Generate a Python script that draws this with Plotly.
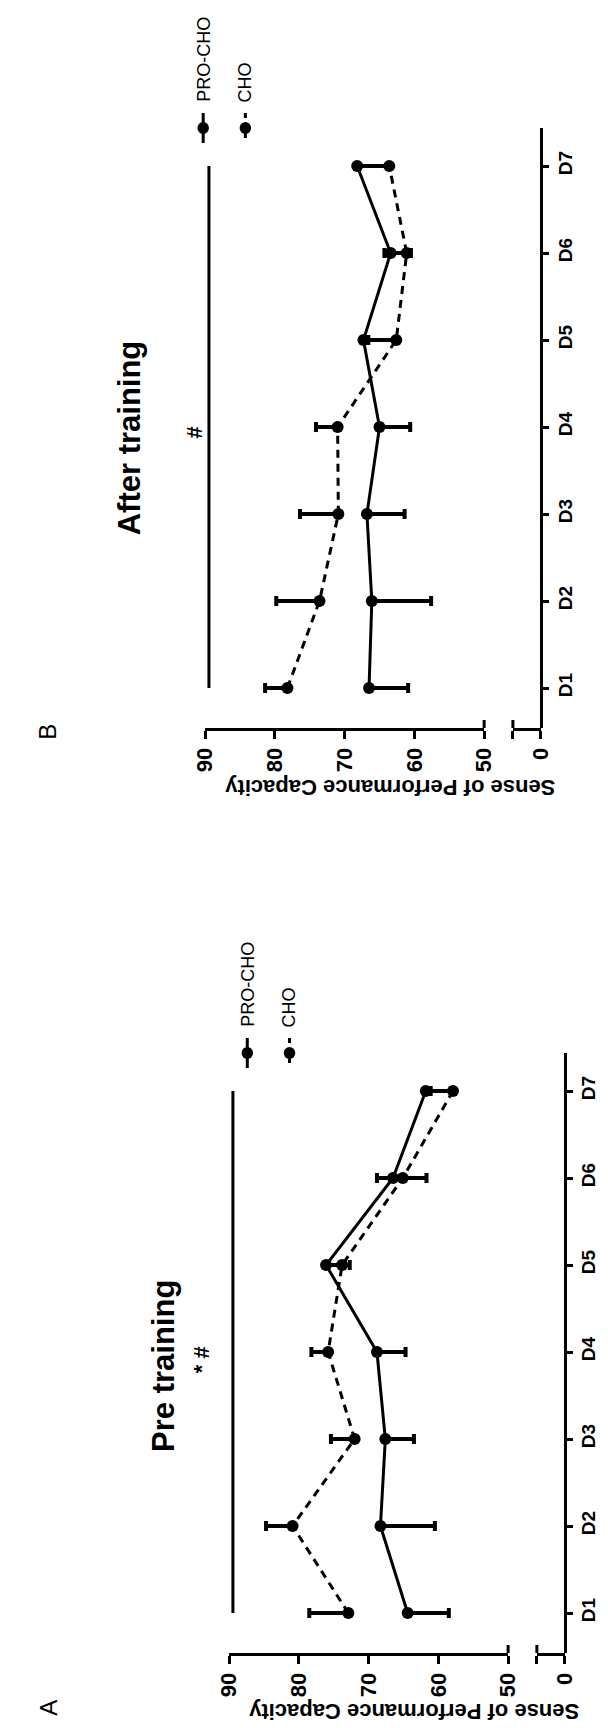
import plotly.graph_objects as go

# data
days = ["D1", "D2", "D3", "D4", "D5", "D6", "D7"]
day_pos = [1, 2, 3, 4, 5, 6, 7]

pre_pro = [64.4, 68.3, 67.6, 68.8, 76.1, 66.5, 61.8]
pre_pro_sd = [5.9, 7.8, 4.1, 4.1, 3.4, 4.8, 3.6]
pre_cho = [72.9, 80.9, 72.0, 75.8, 73.8, 65.1, 57.9]
pre_cho_sd = [5.6, 3.8, 3.4, 2.4, 2.0, 3.7, 3.2]

post_pro = [66.5, 66.1, 66.8, 65.0, 67.3, 63.4, 68.2]
post_pro_sd = [5.6, 8.5, 5.4, 4.4, 4.6, 2.9, 4.4]
post_cho = [78.2, 73.6, 70.9, 71.0, 62.6, 61.1, 63.6]
post_cho_sd = [3.2, 6.2, 5.5, 3.1, 4.0, 3.2, 4.5]

value_ticks = [90, 80, 70, 60, 50]

W, H = 608, 1728
FONT = "Liberation Sans, Arial, sans-serif"


def xp(px):
    return px / W


def yp(px):
    return 1 - px / H


fig = go.Figure()

# panel layout in pixels (figure is turned a quarter turn): B on top, A below
panels = [
    dict(xa="x", xb="x2", ya="y", x90=192, x50=483, xbrk=513, xcat=542,
         y7=158, y1=680, ybot=720, ytop=120, pro=post_pro, pro_sd=post_pro_sd,
         cho=post_cho, cho_sd=post_cho_sd),
    dict(xa="x3", xb="x4", ya="y2", x90=217, x50=508, xbrk=538, xcat=567,
         y7=1083, y1=1605, ybot=1645, ytop=1045, pro=pre_pro, pro_sd=pre_pro_sd,
         cho=pre_cho, cho_sd=pre_cho_sd),
]

axis_common = dict(showline=True, linecolor="black", linewidth=3, ticks="outside",
                   ticklen=8, tickwidth=3, tickcolor="black", showgrid=False,
                   zeroline=False, tickangle=-90, fixedrange=True,
                   tickfont=dict(family=FONT, size=22, color="black", weight="bold"))

shapes = []
for p in panels:
    sp = (p["y1"] - p["y7"]) / 6
    lo = 1 - (p["ybot"] - p["y1"]) / sp
    hi = 7 + (p["y7"] - p["ytop"]) / sp
    yname = "yaxis" if p["ya"] == "y" else "yaxis2"
    xa_name = "xaxis" if p["xa"] == "x" else "xaxis" + p["xa"][1:]
    xb_name = "xaxis" + p["xb"][1:]
    fig.update_layout(**{
        yname: dict(axis_common, domain=[yp(p["ybot"]), yp(p["ytop"])],
                    range=[lo, hi], anchor="free", position=xp(p["xcat"]),
                    side="right", tickvals=day_pos, ticktext=days, ticklen=6,
                    tickfont=dict(family=FONT, size=19, color="black", weight="bold")),
        xa_name: dict(axis_common, domain=[xp(p["x90"]), xp(p["x50"])],
                      range=[90, 50], anchor=p["ya"], tickvals=value_ticks),
        xb_name: dict(axis_common, domain=[xp(p["xbrk"]), xp(p["xcat"])],
                      range=[4, 0], anchor=p["ya"], tickvals=[4, 0],
                      ticktext=["", "0"]),
    })

    # keeps the short broken-axis piece alive
    fig.add_trace(go.Scatter(x=[0], y=[1], xaxis=p["xb"], yaxis=p["ya"], mode="markers",
                             marker=dict(opacity=0), hoverinfo="skip", showlegend=False))

    # PRO-CHO: solid, error bars toward lower values
    fig.add_trace(go.Scatter(
        x=p["pro"], y=day_pos, xaxis=p["xa"], yaxis=p["ya"], mode="lines+markers",
        line=dict(color="black", width=3), marker=dict(size=12, color="black"),
        error_x=dict(type="data", symmetric=False, array=[0] * 7,
                     arrayminus=p["pro_sd"], color="black", thickness=4, width=5),
        showlegend=False, cliponaxis=False))
    # CHO: dashed, error bars toward higher values
    fig.add_trace(go.Scatter(
        x=p["cho"], y=day_pos, xaxis=p["xa"], yaxis=p["ya"], mode="lines+markers",
        line=dict(color="black", width=3, dash="8px,6px"),
        marker=dict(size=12, color="black"),
        error_x=dict(type="data", symmetric=False, array=p["cho_sd"],
                     arrayminus=[0] * 7, color="black", thickness=4, width=5),
        showlegend=False, cliponaxis=False))

    # break caps pointing into the plot
    for xx in (p["x50"], p["xbrk"]):
        shapes.append(dict(type="line", xref="paper", yref="paper",
                           x0=xp(xx), x1=xp(xx), y0=yp(p["ybot"]), y1=yp(p["ybot"] - 8),
                           line=dict(color="black", width=3)))

    # significance bar from D7 to D1
    xs = p["x90"] + 4
    shapes.append(dict(type="line", xref="paper", yref="paper", x0=xp(xs), x1=xp(xs),
                       y0=yp(p["y7"]), y1=yp(p["y1"]), line=dict(color="black", width=3)))

# hand-drawn legends
legend_pos = [(190, 234, 120), (236, 280, 1045)]
annotations = []
for xpro, xcho, yc in legend_pos:
    shapes.append(dict(type="line", xref="paper", yref="paper", x0=xp(xpro), x1=xp(xpro),
                       y0=yp(yc - 15), y1=yp(yc + 15), line=dict(color="black", width=3)))
    shapes.append(dict(type="line", xref="paper", yref="paper", x0=xp(xcho), x1=xp(xcho),
                       y0=yp(yc - 15), y1=yp(yc + 15),
                       line=dict(color="black", width=3, dash="5px,5px")))
    for xx in (xpro, xcho):
        shapes.append(dict(type="circle", xref="paper", yref="paper",
                           x0=xp(xx - 6), x1=xp(xx + 6), y0=yp(yc + 6), y1=yp(yc - 6),
                           fillcolor="black", line=dict(color="black", width=0)))
    for t, xx in (("PRO-CHO", xpro), ("CHO", xcho)):
        annotations.append(dict(text=t, x=xp(xx), y=yp(yc - 24), xref="paper",
                                yref="paper", showarrow=False, textangle=-90,
                                xanchor="center", yanchor="bottom",
                                font=dict(family=FONT, size=18, color="black")))

texts = [
    ("After training", 114, 430, -90, 31, "bold"),
    ("Pre training", 148, 1358, -90, 31, "bold"),
    ("#", 180, 425, -90, 22, "bold"),
    ("* #", 188, 1352, -90, 22, "bold"),
    ("Sense of Performance Capacity", 385, 779, 180, 22, "bold"),
    ("Sense of Performance Capacity", 410, 1704, 180, 22, "bold"),
    ("B", 28, 724, -90, 24, "normal"),
    ("A", 28, 1700, -90, 24, "normal"),
]
for t, x, y, ang, size, wt in texts:
    annotations.append(dict(text=t, x=xp(x), y=yp(y), xref="paper", yref="paper",
                            showarrow=False, textangle=ang, xanchor="center",
                            yanchor="middle",
                            font=dict(family=FONT, size=size, color="black", weight=wt)))

fig.update_layout(width=W, height=H, margin=dict(l=0, r=0, t=0, b=0),
                  plot_bgcolor="white", paper_bgcolor="white", showlegend=False,
                  shapes=shapes, annotations=annotations)

fig.write_html("out.html")
